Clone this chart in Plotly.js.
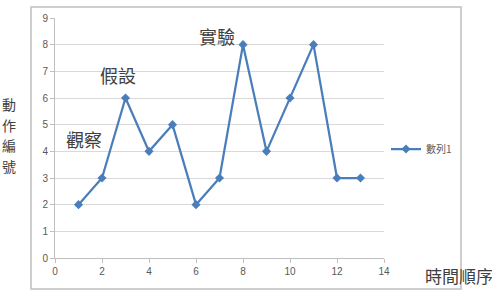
<!DOCTYPE html>
<html>
<head>
<meta charset="utf-8">
<script src="https://cdn.plot.ly/plotly-3.0.1.min.js"></script>
<style>html,body{margin:0;padding:0;background:#fff;}#chart{width:492px;height:294px;}</style>
</head>
<body>
<div id="chart"></div>
<script>
// ---- data ----
const timeOrder = [1, 2, 3, 4, 5, 6, 7, 8, 9, 10, 11, 12, 13];
const actionNo  = [2, 3, 6, 4, 5, 2, 3, 8, 4, 6, 8, 3, 3];
const seriesName = "數列1";
const xTitle = "時間順序";
const yTitle = "動作編號";
const phaseLabels = ["觀察", "假設", "實驗"];
const phaseX = [1.23, 2.68, 6.89];
const phaseY = [4.46, 6.86, 8.32];

// ---- layout helpers ----
const W = 492, H = 294;
const M = {l: 55, r: 108, t: 18, b: 36};
const pw = W - M.l - M.r, ph = H - M.t - M.b;
const px2x = p => (p - M.l) / pw;
const py2y = p => (H - M.b - p) / ph;

const textFont = {family: "'Noto Sans CJK TC', 'Noto Sans CJK SC', sans-serif", size: 17, color: "#404040"};
const tickFont = {family: "'Liberation Sans', Arial, sans-serif", size: 10, color: "#595959"};

const annotations = [];
phaseLabels.forEach((t, i) => annotations.push({
  x: phaseX[i], y: phaseY[i], xref: "x", yref: "y", text: t, showarrow: false,
  font: Object.assign({}, textFont, {size: 18}), xanchor: "center", yanchor: "middle"
}));
// vertical y title, one character per annotation (stacked)
const yChars = Array.from(yTitle);
const ySize = 14, yStep = 20.6, yMid = 135;
yChars.forEach((ch, i) => annotations.push({
  x: px2x(9), y: py2y(yMid + (i - (yChars.length - 1) / 2) * yStep), xref: "paper", yref: "paper",
  text: ch, showarrow: false,
  font: Object.assign({}, textFont, {size: ySize}), xanchor: "center", yanchor: "middle"
}));
annotations.push({
  x: px2x(423), y: py2y(275), xref: "paper", yref: "paper", text: xTitle, showarrow: false,
  font: textFont, xanchor: "left", yanchor: "middle"
});

const trace = {
  x: timeOrder, y: actionNo, name: seriesName, type: "scatter", mode: "lines+markers",
  line: {color: "#4a7ebb", width: 2.25},
  marker: {symbol: "diamond", size: 7, color: "#4a7ebb"}
};

const layout = {
  width: W, height: H, margin: M, autosize: false,
  paper_bgcolor: "#fff", plot_bgcolor: "#fff",
  showlegend: true,
  legend: {x: px2x(386), y: py2y(149), xanchor: "left", yanchor: "middle",
           font: {family: "'Noto Sans CJK TC', sans-serif", size: 10, color: "#595959"},
           bgcolor: "rgba(0,0,0,0)", itemwidth: 30},
  xaxis: {range: [0, 14], dtick: 2, tick0: 0, showgrid: false, zeroline: false,
          showline: true, linecolor: "#bfbfbf", linewidth: 1,
          ticks: "outside", ticklen: 4, tickcolor: "#bfbfbf", tickfont: tickFont, fixedrange: true},
  yaxis: {range: [0, 9], dtick: 1, tick0: 0, showgrid: true, gridcolor: "#d9d9d9", gridwidth: 1,
          zeroline: false, showline: true, linecolor: "#bfbfbf", linewidth: 1,
          ticks: "outside", ticklen: 4, tickcolor: "#bfbfbf", tickfont: tickFont, fixedrange: true},
  shapes: [{type: "rect", xref: "paper", yref: "paper",
            x0: px2x(31), x1: px2x(461), y0: py2y(289), y1: py2y(7),
            line: {color: "#bfbfbf", width: 1.5}, layer: "below"}],
  annotations: annotations
};

Plotly.newPlot("chart", [trace], layout, {displayModeBar: false, staticPlot: true});
</script>
</body>
</html>
